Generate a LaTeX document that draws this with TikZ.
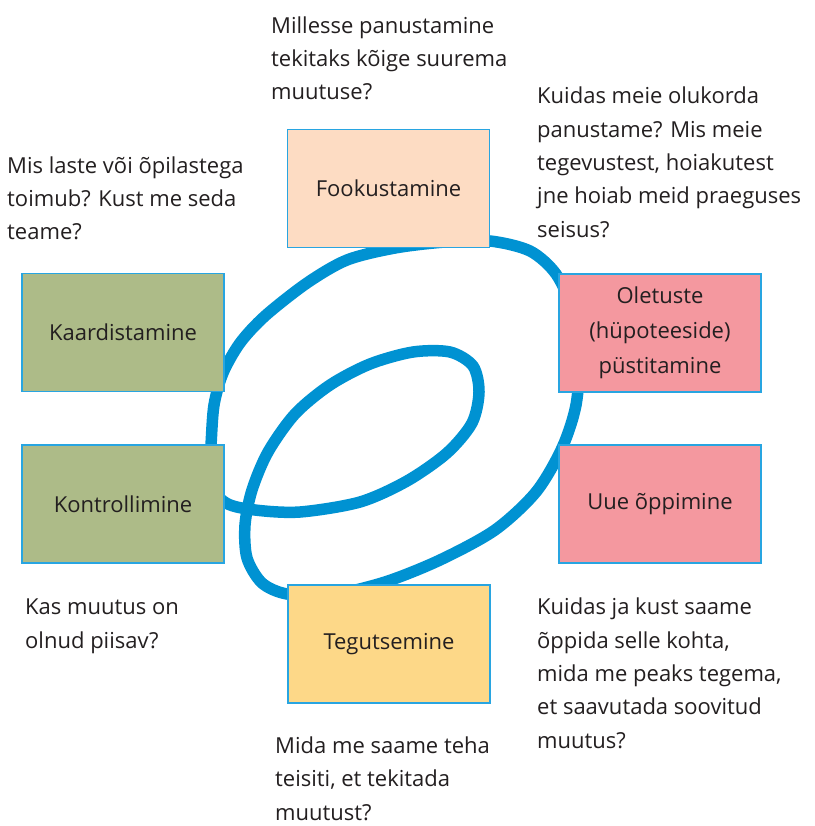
\documentclass[tikz,border=0pt]{standalone}
\usepackage{fontspec}
\setmainfont{Open Sans}
\definecolor{loopblue}{RGB}{0,146,210}
\definecolor{edgeblue}{RGB}{40,165,225}
\definecolor{peach}{RGB}{253,220,195}
\definecolor{sage}{RGB}{173,187,136}
\definecolor{rose}{RGB}{244,152,159}
\definecolor{sand}{RGB}{253,216,136}
\definecolor{ink}{RGB}{35,31,32}
\begin{document}
\begin{tikzpicture}[x=1pt,y=-1pt,
  box/.style={draw=edgeblue,line width=1.4pt,minimum width=202pt,minimum height=118pt,inner sep=0pt,text=ink,align=center,font=\fontsize{22}{35}\selectfont},
  question/.style={anchor=base west,inner sep=0pt,align=left,text=ink,font=\fontsize{22}{33.3}\selectfont},
  loop/.style={draw=loopblue,line width=11.5pt}]
\useasboundingbox (0,0) rectangle (814,826);
\fill[white] (0,0) rectangle (814,826);
% the loop, drawn first so the boxes cover it
\draw[loop] plot[smooth cycle,tension=0.5] coordinates {
 (395,248) (445,242) (490,241) (530,251) (556,274) (572,310) (579,358) (576,405)
 (562,448) (536,492) (495,530) (440,560) (385,582) (330,595) (287,594)
 (262,583) (247,558) (245,525) (252,490) (268,452) (295,414) (330,385) (370,364)
 (413,352) (450,352) (473,366) (479,392) (472,423) (447,453) (407,481) (360,502)
 (300,512) (255,510) (226,503) (209,482) (211,445) (214,405) (223,373) (240,343)
 (265,316) (307,283) (347,260)};
% boxes
\node[box,fill=peach] (fook) at (388.5,188.5) {Fookustamine};
\node[box,fill=sage] (kaard) at (123,332.5) {Kaardistamine};
\node[box,fill=sage] (kontr) at (123,504) {Kontrollimine};
\node[box,fill=rose] (olet) at (660,333) {Oletuste\\(hüpoteeside)\\püstitamine};
\node[box,fill=rose] (uue) at (660,504) {Uue õppimine};
\node[box,fill=sand] (tegu) at (389,644) {Tegutsemine};
% questions (anchored at the baseline of their last line)
\node[question] (q1) at (271,100) {Millesse panustamine\\tekitaks kõige suurema\\muutuse?};
\node[question] (q2) at (537,237) {Kuidas meie olukorda\\panustame? Mis meie\\tegevustest, hoiakutest\\jne hoiab meid praeguses\\seisus?};
\node[question] (q3) at (7,240) {Mis laste või õpilastega\\toimub? Kust me seda\\teame?};
\node[question] (q4) at (25,648) {Kas muutus on\\olnud piisav?};
\node[question] (q5) at (537,748) {Kuidas ja kust saame\\õppida selle kohta,\\mida me peaks tegema,\\et saavutada soovitud\\muutus?};
\node[question] (q6) at (275,820) {Mida me saame teha\\teisiti, et tekitada\\muutust?};
\end{tikzpicture}
\end{document}
